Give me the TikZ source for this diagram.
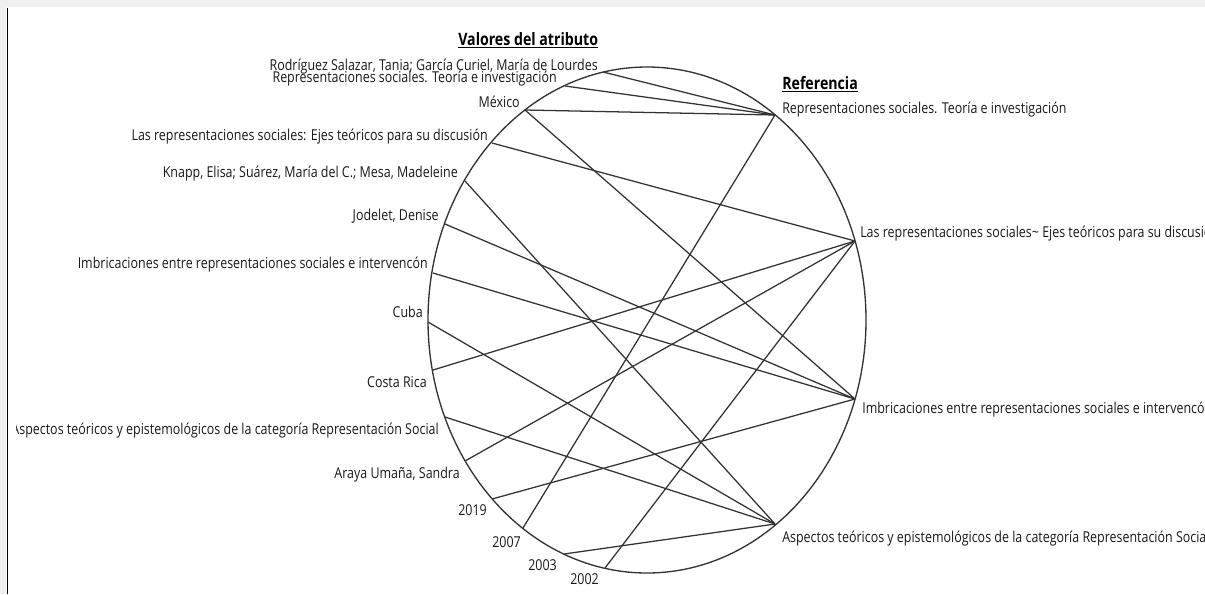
\documentclass[tikz,border=0pt]{standalone}
\usepackage{fontspec}
\setmainfont{Open Sans}[FakeStretch=0.83]
\begin{document}
\begin{tikzpicture}[x=0.75pt,y=-0.75pt,
  lbl/.style={inner sep=0pt, font=\fontsize{11.25}{13}\selectfont, text=black!90},
  ttl/.style={inner sep=0pt, font=\fontsize{12.8}{14}\selectfont\bfseries},
  link/.style={draw=black!80, line width=0.95pt},
  rim/.style={draw=black!80, line width=1pt}]
\useasboundingbox (0,0) rectangle (1205,594);
\fill[black!6] (0,0) rectangle (1205,7);
\fill[black!6] (0,7) rectangle (6,594);
\draw[line width=1.1pt] (7.5,7.5) -- (7.5,594);

% ellipse
\coordinate (C) at (647,320);
\draw[rim] (C) ellipse [x radius=219, y radius=253];

% points on the left arc
\coordinate (pRod) at (603,72);
\coordinate (pRep) at (565,86);
\coordinate (pMex) at (525,110);
\coordinate (pLas) at (492,143);
\coordinate (pKna) at (465,181);
\coordinate (pJod) at (445,224);
\coordinate (pImb) at (433,273);
\coordinate (pCub) at (428,322);
\coordinate (pCos) at (433,370);
\coordinate (pAsp) at (445,417);
\coordinate (pAra) at (465,461);
\coordinate (p19) at (492,499);
\coordinate (p07) at (523,528);
\coordinate (p03) at (564,554);
\coordinate (p02) at (605,568);
% points on the right arc
\coordinate (r1) at (775,115);
\coordinate (r2) at (855,241);
\coordinate (r3) at (855,399);
\coordinate (r4) at (775,524);

% connectors
\draw[link] (pRod) -- (r1);
\draw[link] (pRep) -- (r1);
\draw[link] (pMex) -- (r1);
\draw[link] (pMex) -- (r3);
\draw[link] (pLas) -- (r2);
\draw[link] (pKna) -- (r4);
\draw[link] (pJod) -- (r3);
\draw[link] (pImb) -- (r3);
\draw[link] (pCub) -- (r4);
\draw[link] (pCos) -- (r2);
\draw[link] (pAsp) -- (r4);
\draw[link] (pAra) -- (r2);
\draw[link] (p19) -- (r3);
\draw[link] (p07) -- (r1);
\draw[link] (p03) -- (r4);
\draw[link] (p02) -- (r2);

\begin{scope}
\clip (16.5,0) rectangle (1205,594);
% titles
\node[ttl, anchor=base west] (tVal) at (458,45) {\underline{Valores del atributo}};
\node[ttl, anchor=base west] (tRef) at (782,89) {\underline{Referencia}};
% left labels
\node[lbl, anchor=base east] (lRod) at (598,70) {Rodríguez Salazar, Tania; García Curiel, María de Lourdes};
\node[lbl, anchor=base east] (lRep) at (557,82) {Representaciones sociales. Teoría e investigación};
\node[lbl, anchor=base east] (lMex) at (520,107) {México};
\node[lbl, anchor=base east] (lLas) at (488,140) {Las representaciones sociales: Ejes teóricos para su discusión};
\node[lbl, anchor=base east] (lKna) at (458,177) {Knapp, Elisa; Suárez, María del C.; Mesa, Madeleine};
\node[lbl, anchor=base east] (lJod) at (439,220) {Jodelet, Denise};
\node[lbl, anchor=base east] (lImb) at (428,268) {Imbricaciones entre representaciones sociales e intervencón};
\node[lbl, anchor=base east] (lCub) at (423,317) {Cuba};
\node[lbl, anchor=base east] (lCos) at (427,387) {Costa Rica};
\node[lbl, anchor=base east] (lAsp) at (439,434) {Aspectos teóricos y epistemológicos de la categoría Representación Social};
\node[lbl, anchor=base east] (lAra) at (460,478) {Araya Umaña, Sandra};
\node[lbl, anchor=base east] (l19) at (487,515) {2019};
\node[lbl, anchor=base east] (l07) at (521,547) {2007};
\node[lbl, anchor=base east] (l03) at (557,570) {2003};
\node[lbl, anchor=base east] (l02) at (599,584) {2002};
% right labels
\node[lbl, anchor=base west] (lr1) at (782,113) {Representaciones sociales. Teoría e investigación};
\node[lbl, anchor=base west] (lr2) at (860,237) {Las representaciones sociales\textasciitilde{} Ejes teóricos para su discusión};
\node[lbl, anchor=base west] (lr3) at (862,413) {Imbricaciones entre representaciones sociales e intervencón};
\node[lbl, anchor=base west] (lr4) at (782,542) {Aspectos teóricos y epistemológicos de la categoría Representación Social};
\end{scope}
\end{tikzpicture}
\end{document}
